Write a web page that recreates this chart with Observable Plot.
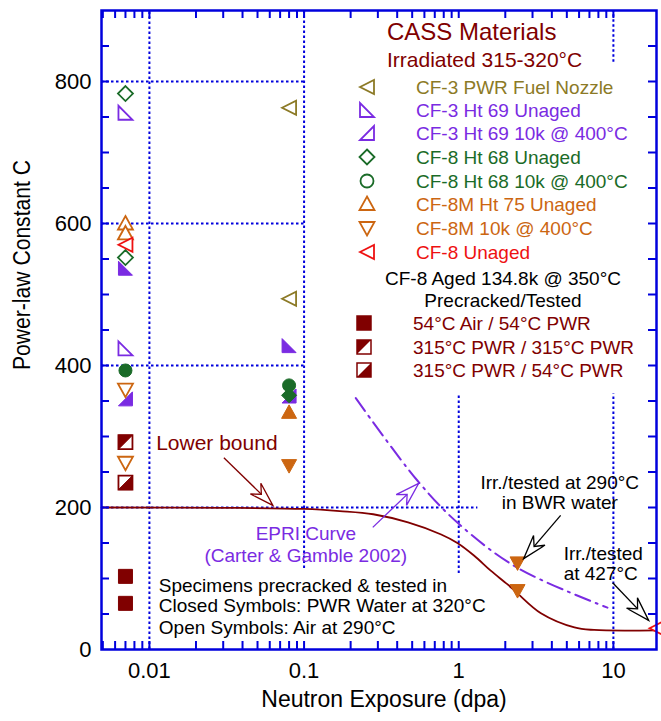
<!DOCTYPE html>
<html>
<head>
<meta charset="utf-8">
<script src="https://cdn.jsdelivr.net/npm/d3@7"></script>
<script src="https://cdn.jsdelivr.net/npm/@observablehq/plot@0.6"></script>
<style>
  body { margin: 0; background: #fff; }
  #chart { width: 661px; height: 721px; }
</style>
</head>
<body>
<div id="chart"></div>
<script>
// ---------------- data ----------------
const cf3NozzleOpen        = [[0.08, 763], [0.08, 494]];
const cf3Ht69UnagedOpen    = [[0.007, 756], [0.007, 424]];
const cf3Ht69UnagedClosed  = [[0.007, 537], [0.08, 428]];
const cf3Ht69AgedClosed    = [[0.007, 353], [0.08, 357]];
const cf8Ht68UnagedOpen    = [[0.007, 783], [0.007, 552]];
const cf8Ht68UnagedClosed  = [[0.08, 358]];
const cf8Ht68AgedClosed    = [[0.007, 393], [0.08, 372]];
const cf8mHt75UnagedOpen   = [[0.007, 600], [0.007, 586]];
const cf8mHt75UnagedClosed = [[0.08, 334]];
const cf8mAgedOpen         = [[0.007, 366], [0.007, 263]];
const cf8mAgedClosed       = [[0.08, 259], [2.4, 122], [2.4, 83]];
const cf8UnagedOpen        = [[0.007, 570], [19, 30]];
const cf8Aged54_54         = [[0.007, 103], [0.007, 65]];
const cf8Aged315_315       = [[0.007, 292]];
const cf8Aged315_54        = [[0.007, 235]];

const lowerBound = [[0.0049, 200], [0.03, 199.6], [0.1, 198], [0.17, 195], [0.28, 190.5],
  [0.47, 179], [0.77, 162], [0.98, 150], [1.26, 132], [1.61, 111], [2.06, 92], [2.4, 79],
  [3.4, 51], [5.6, 31], [7.5, 27.5], [19, 27]];
const epriCurve = [[0.216, 354], [0.54, 238], [1, 177], [2.4, 115], [9.15, 59]];

const xTickLabels = [0.01, 0.1, 1, 10];
const yTickLabels = [0, 200, 400, 600, 800];

const vGrid = [
  {x: 0.01, y1: 0, y2: 900}, {x: 0.1, y1: 114, y2: 900}, {x: 1, y1: 107, y2: 360},
  {x: 10, y1: 827, y2: 900}, {x: 10, y1: 0, y2: 360}
];
const hGrid = [
  {y: 800, x1: 0.0049, x2: 0.1}, {y: 600, x1: 0.0049, x2: 0.1},
  {y: 400, x1: 0.0049, x2: 0.1}, {y: 200, x1: 0.0049, x2: 1.33}
];

const legendLabels = ["CF-3 PWR Fuel Nozzle", "CF-3 Ht 69 Unaged", "CF-3 Ht 69 10k @ 400°C",
  "CF-8 Ht 68 Unaged", "CF-8 Ht 68 10k @ 400°C", "CF-8M Ht 75 Unaged", "CF-8M 10k @ 400°C", "CF-8 Unaged"];
const legendSymbols = ["left", "rtBL", "rtBR", "diamond", "circle", "up", "down", "left"];
const squareLabels = ["54°C Air / 54°C PWR", "315°C PWR / 315°C PWR", "315°C PWR / 54°C PWR"];

const arrows = [
  {x1: 0.0303, y1: 270, x2: 0.0628, y2: 203},
  {x1: 0.278, y1: 172, x2: 0.551, y2: 234},
  {x1: 4.56, y1: 189, x2: 2.63, y2: 128},
  {x1: 9.89, y1: 94, x2: 16.9, y2: 41}
];

// ---------------- styles ----------------
const FONT = "'Liberation Sans', Arial, sans-serif";
const BLUE = "#0000dd";
const OLIVE = "#8c7a26", PURPLE = "#7a2be2", GREEN = "#1a6b28", ORANGE = "#cc6611",
      RED = "#ee1111", MAROON = "#800000";
const legendColors = [OLIVE, PURPLE, PURPLE, GREEN, GREEN, ORANGE, ORANGE, RED];
const arrowColors = [MAROON, PURPLE, "#000", "#000"];

function poly(pts) {
  return {draw(ctx) {
    ctx.moveTo(pts[0][0], pts[0][1]);
    for (let i = 1; i < pts.length; i++) ctx.lineTo(pts[i][0], pts[i][1]);
    ctx.closePath();
  }};
}
const S = {
  left: poly([[-7, 0], [7, -7], [7, 7]]),
  up: poly([[0, -7.5], [7.5, 6], [-7.5, 6]]),
  down: poly([[0, 7.5], [7.5, -6], [-7.5, -6]]),
  rtBL: poly([[-7, -7], [-7, 7], [7, 7]]),
  rtBR: poly([[7, -7], [7, 7], [-7, 7]]),
  diamond: poly([[0, -7.5], [7.5, 0], [0, 7.5], [-7.5, 0]]),
  square: poly([[-7, -7], [7, -7], [7, 7], [-7, 7]]),
  triUL: poly([[-7, -7], [7, -7], [-7, 7]]),
  triLR: poly([[7, -7], [7, 7], [-7, 7]]),
  circle: {draw(ctx) { ctx.moveTo(6.5, 0); ctx.arc(0, 0, 6.5, 0, 2 * Math.PI); }},
  head: poly([[0, 0], [-7.5, 24], [0, 16], [7.5, 24]])
};

const W = 661, H = 721, ML = 101, MR = 5, MT = 10, MB = 72;
const xDomain = [0.0049, 19], yDomain = [0, 900];
const fw = W - ML - MR, fh = H - MT - MB;

const xs = Plot.scale({x: {type: "log", domain: xDomain, range: [ML, W - MR]}});
const ys = Plot.scale({y: {type: "linear", domain: yDomain, range: [H - MB, MT]}});
const arrowAngles = arrows.map(a => {
  const dx = xs.apply(a.x2) - xs.apply(a.x1), dy = ys.apply(a.y2) - ys.apply(a.y1);
  return Math.atan2(dx, -dy) * 180 / Math.PI;
});

const openDot = (data, sym, color) => Plot.dot(data, {x: d => d[0], y: d => d[1], symbol: S[sym],
  fill: "white", stroke: color, strokeWidth: 1.8, r: 5});
const closedDot = (data, sym, color) => Plot.dot(data, {x: d => d[0], y: d => d[1], symbol: S[sym],
  fill: color, stroke: color, strokeWidth: 1, r: 5});

const yMinor = d3.range(50, 900, 50);
const xMinor = [];
for (let e = -3; e <= 1; e++) for (let k = 1; k <= 9; k++) {
  const v = k * Math.pow(10, e);
  if (v > xDomain[0] * 1.01 && v < xDomain[1] * 0.99) xMinor.push(v);
}

const dashed = {stroke: BLUE, strokeWidth: 2, strokeDasharray: "2.5,2.5"};

const plot = Plot.plot({
  width: W, height: H,
  marginLeft: ML, marginRight: MR, marginTop: MT, marginBottom: MB,
  style: {fontFamily: FONT, color: "black", background: "white"},
  x: {type: "log", domain: xDomain},
  y: {domain: yDomain},
  marks: [
    Plot.ruleX(vGrid, {x: "x", y1: "y1", y2: "y2", ...dashed}),
    Plot.ruleY(hGrid, {y: "y", x1: "x1", x2: "x2", ...dashed}),
    Plot.line(lowerBound, {x: d => d[0], y: d => d[1], stroke: MAROON, strokeWidth: 1.8, curve: "catmull-rom"}),
    Plot.line(epriCurve, {x: d => d[0], y: d => d[1], stroke: PURPLE, strokeWidth: 2,
      strokeDasharray: "16,6,2,6", curve: "catmull-rom"}),

    openDot(cf3NozzleOpen, "left", OLIVE),
    openDot(cf3Ht69UnagedOpen, "rtBL", PURPLE),
    closedDot(cf3Ht69UnagedClosed, "rtBL", PURPLE),
    closedDot(cf3Ht69AgedClosed, "rtBR", PURPLE),
    openDot(cf8Ht68UnagedOpen, "diamond", GREEN),
    closedDot(cf8Ht68UnagedClosed, "diamond", GREEN),
    openDot(cf8mAgedOpen, "down", ORANGE),
    closedDot(cf8Ht68AgedClosed, "circle", GREEN),
    openDot(cf8mHt75UnagedOpen, "up", ORANGE),
    closedDot(cf8mHt75UnagedClosed, "up", ORANGE),
    closedDot(cf8mAgedClosed, "down", ORANGE),
    openDot(cf8UnagedOpen, "left", RED),
    closedDot(cf8Aged54_54, "square", MAROON),
    openDot(cf8Aged315_315, "square", MAROON),
    closedDot(cf8Aged315_315, "triUL", MAROON),
    openDot(cf8Aged315_54, "square", MAROON),
    closedDot(cf8Aged315_54, "triLR", MAROON),

    // annotation arrows
    Plot.link(arrows, {x1: "x1", y1: "y1", x2: "x2", y2: "y2", stroke: (d, i) => arrowColors[i], strokeWidth: 1.3}),
    Plot.dot(arrows, {x: "x2", y: "y2", symbol: S.head, r: 5, fill: "white",
      stroke: (d, i) => arrowColors[i], strokeWidth: 1.3, rotate: (d, i) => arrowAngles[i]}),

    // annotation texts
    Plot.text(["Lower bound"], {x: 0.0273, y: 290, fill: MAROON, fontSize: 21}),
    Plot.text(["EPRI Curve", "(Carter & Gamble 2002)"], {x: 0.1026, y: (d, i) => [163, 132][i], fill: PURPLE, fontSize: 19}),
    Plot.text(["Irr./tested at 290°C", "in BWR water"], {x: 4.5, y: (d, i) => [235, 206][i], fill: "black", fontSize: 19}),
    Plot.text(["Irr./tested", "at 427°C"], {x: 4.77, y: (d, i) => [135, 107][i], fill: "black", fontSize: 19, textAnchor: "start"}),
    Plot.text(["Specimens precracked & tested in", "Closed Symbols: PWR Water at 320°C", "Open Symbols: Air at 290°C"],
      {x: 0.0115, y: (d, i) => [90, 61, 31][i], fill: "black", fontSize: 19, textAnchor: "start"}),

    // frame and inward ticks
    Plot.frame({stroke: BLUE, strokeWidth: 2.5}),
    Plot.tickY(yMinor, {y: d => d, insetRight: fw - 8, stroke: BLUE, strokeWidth: 2}),
    Plot.tickY(yMinor, {y: d => d, insetLeft: fw - 8, stroke: BLUE, strokeWidth: 2}),
    Plot.tickX(xMinor, {x: d => d, insetBottom: fh - 8, stroke: BLUE, strokeWidth: 2}),
    Plot.tickX(xMinor, {x: d => d, insetTop: fh - 8, stroke: BLUE, strokeWidth: 2}),

    Plot.axisY({ticks: yTickLabels, tickSize: 0, tickPadding: 10, fontSize: 22, label: null}),
    Plot.axisX({ticks: xTickLabels, tickFormat: d => String(d), tickSize: 0, tickPadding: 13, fontSize: 22, label: null}),
    Plot.text(["Power-law Constant C"], {frameAnchor: "left", dx: -79, dy: 40, rotate: -90, fontSize: 23, fill: "black"}),
    Plot.text(["Neutron Exposure (dpa)"], {frameAnchor: "bottom", dx: 5, dy: 57, fontSize: 23, fill: "black"})
  ]
});

// condensed y-axis title, as in the reference
d3.select(plot).selectAll("text").filter(function() { return this.textContent === "Power-law Constant C"; })
  .attr("textLength", 210).attr("lengthAdjust", "spacingAndGlyphs");

// ---------------- legend (inside plot area) ----------------
const svg = d3.select(plot);
const g = svg.append("g").attr("font-family", FONT).attr("text-anchor", "start");
g.append("text").attr("x", 387).attr("y", 32).attr("dy", "0.35em").attr("font-size", 24).attr("fill", MAROON).text("CASS Materials");
g.append("text").attr("x", 387).attr("y", 60).attr("dy", "0.35em").attr("font-size", 21).attr("fill", MAROON).text("Irradiated 315-320°C");
const rowY = [87, 110, 133, 157, 181, 204, 228, 252];
legendLabels.forEach((lab, i) => {
  g.append("path").attr("transform", `translate(367,${rowY[i]})`).attr("d", d3.symbol(S[legendSymbols[i]], 1)())
    .attr("fill", "white").attr("stroke", legendColors[i]).attr("stroke-width", 1.8);
  g.append("text").attr("x", 416).attr("y", rowY[i]).attr("dy", "0.35em").attr("font-size", 19)
    .attr("fill", legendColors[i]).text(lab);
});
g.append("text").attr("x", 503).attr("y", 278).attr("dy", "0.35em").attr("text-anchor", "middle").attr("font-size", 19).attr("fill", "black").text("CF-8 Aged 134.8k @ 350°C");
g.append("text").attr("x", 503).attr("y", 300).attr("dy", "0.35em").attr("text-anchor", "middle").attr("font-size", 19).attr("fill", "black").text("Precracked/Tested");
const sqY = [323, 347, 370];
const sqFill = [null, "triUL", "triLR"];
squareLabels.forEach((lab, i) => {
  const t = `translate(364,${sqY[i]})`;
  g.append("path").attr("transform", t).attr("d", d3.symbol(S.square, 1)())
    .attr("fill", i === 0 ? MAROON : "white").attr("stroke", MAROON).attr("stroke-width", 1.5);
  if (sqFill[i]) g.append("path").attr("transform", t).attr("d", d3.symbol(S[sqFill[i]], 1)()).attr("fill", MAROON);
  g.append("text").attr("x", 413).attr("y", sqY[i]).attr("dy", "0.35em").attr("font-size", 19)
    .attr("fill", MAROON).text(lab);
});

document.getElementById("chart").appendChild(plot);
</script>
</body>
</html>
